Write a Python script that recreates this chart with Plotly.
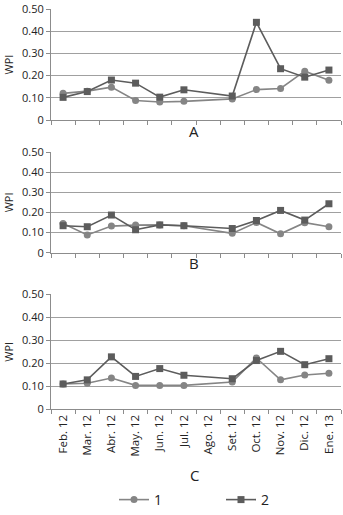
import plotly.graph_objects as go

months = ["Feb. 12", "Mar. 12", "Abr. 12", "May. 12", "Jun. 12", "Jul. 12",
          "Ago. 12", "Set. 12", "Oct. 12", "Nov. 12", "Dic. 12", "Ene. 13"]

a_s1 = [0.12, 0.13, 0.148, 0.088, 0.081, 0.084, None, 0.095, 0.137, 0.142, 0.22, 0.179]
a_s2 = [0.102, 0.128, 0.18, 0.166, 0.103, 0.136, None, 0.108, 0.44, 0.231, 0.193, 0.225]
b_s1 = [0.145, 0.088, 0.132, 0.137, 0.138, 0.134, None, 0.096, 0.15, 0.094, 0.149, 0.129]
b_s2 = [0.134, 0.129, 0.187, 0.114, 0.138, 0.134, None, 0.12, 0.16, 0.21, 0.162, 0.243]
c_s1 = [0.11, 0.113, 0.136, 0.104, 0.104, 0.104, None, 0.119, 0.223, 0.128, 0.149, 0.157]
c_s2 = [0.11, 0.128, 0.228, 0.143, 0.177, 0.148, None, 0.133, 0.212, 0.252, 0.194, 0.22]

panels = ["A", "B", "C"]
series_names = ["1", "2"]
yticks = [0, 0.1, 0.2, 0.3, 0.4, 0.5]
yticklabels = ["0", "0.10", "0.20", "0.30", "0.40", "0.50"]

W, H = 343, 515
def fy(px):
    return 1 - px / H
def fx(px):
    return px / W

col1 = "#858585"
col2 = "#5c5c5c"
font = "Open Sans"

data = [(a_s1, a_s2), (b_s1, b_s2), (c_s1, c_s2)]
ydomains = [(120, 9), (252.7, 152), (409.3, 294.3)]
label_y = [131, 263, 475]

fig = go.Figure()
for i, (s1, s2) in enumerate(data):
    k = "" if i == 0 else str(i + 1)
    fig.add_trace(go.Scatter(x=months, y=s1, name=series_names[0], mode="lines+markers",
                             connectgaps=True, line=dict(color=col1, width=1.6),
                             marker=dict(symbol="circle", size=7, color=col1),
                             xaxis="x" + k, yaxis="y" + k, showlegend=(i == 0),
                             cliponaxis=False))
    fig.add_trace(go.Scatter(x=months, y=s2, name=series_names[1], mode="lines+markers",
                             connectgaps=True, line=dict(color=col2, width=1.6),
                             marker=dict(symbol="square", size=7, color=col2),
                             xaxis="x" + k, yaxis="y" + k, showlegend=(i == 0),
                             cliponaxis=False))
    bot, top = ydomains[i]
    xa = dict(domain=[fx(51), fx(341)], anchor="y" + k, type="category",
              categoryorder="array", categoryarray=months, range=[-0.5, 11.5],
              showline=True, linecolor="#8c8c8c", linewidth=1,
              ticks="outside", tickson="boundaries", ticklen=4, tickcolor="#8c8c8c",
              showgrid=False, zeroline=False, automargin=False,
              showticklabels=(i == 2), tickangle=-90,
              tickfont=dict(family=font, size=11.5, color="#222"))
    ya = dict(domain=[fy(bot), fy(top)], anchor="x" + k, range=[0, 0.5],
              tickvals=yticks, ticktext=yticklabels, automargin=False,
              showline=True, linecolor="#8c8c8c", linewidth=1,
              ticks="outside", ticklen=4, tickcolor="#8c8c8c",
              showgrid=True, gridcolor="#a0a0a0", gridwidth=1, zeroline=False,
              tickfont=dict(family=font, size=11, color="#222"),
              title=dict(text="WPI", font=dict(family=font, size=11, color="#222"), standoff=6))
    fig.update_layout(**{"xaxis" + k: xa, "yaxis" + k: ya})
    fig.add_annotation(text=panels[i], x=fx(194), y=fy(label_y[i]), xref="paper", yref="paper",
                       showarrow=False, font=dict(family=font, size=15, color="#222"),
                       xanchor="center", yanchor="middle")

fig.update_layout(
    width=W, height=H, margin=dict(l=0, r=0, t=0, b=0, autoexpand=False),
    paper_bgcolor="white", plot_bgcolor="white",
    legend=dict(orientation="h", x=fx(114), xanchor="left", y=fy(500), yanchor="middle",
                font=dict(family=font, size=14, color="#222"), itemwidth=30,
                tracegroupgap=0, entrywidth=62),
    showlegend=True,
)

fig.write_html("out.html", config={"displayModeBar": False},
               post_script="document.body.style.margin='0';")
